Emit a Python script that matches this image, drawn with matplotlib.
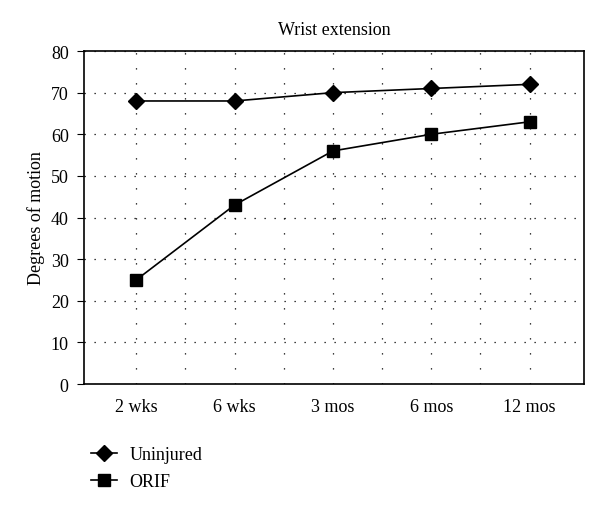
import matplotlib.pyplot as plt
from matplotlib.ticker import MultipleLocator, FixedLocator

plt.rcParams['font.family'] = ['Liberation Serif', 'DejaVu Serif']

periods = ['2 wks', '6 wks', '3 mos', '6 mos', '12 mos']
uninjured = [68, 68, 70, 71, 72]
orif = [25, 43, 56, 60, 63]

fig = plt.figure(figsize=(6, 5.1), dpi=100)
ax = fig.add_axes([0.14, 0.245, 0.833, 0.653])

x = list(range(len(periods)))
ax.plot(x, uninjured, color='black', linewidth=1.2, marker='D', markersize=8, label='Uninjured')
ax.plot(x, orif, color='black', linewidth=1.2, marker='s', markersize=9, label='ORIF')

ax.set_xlim(-0.53, 4.55)
ax.set_ylim(0, 80)
ax.set_xticks(x)
ax.set_xticklabels(periods, fontsize=13)
ax.xaxis.set_minor_locator(FixedLocator([0.5, 1.5, 2.5, 3.5]))
ax.yaxis.set_major_locator(MultipleLocator(10))
ax.tick_params(axis='y', labelsize=13, length=5, direction='out', pad=6)
ax.tick_params(axis='x', length=0, pad=10)
ax.tick_params(axis='x', which='minor', length=0)

ax.grid(True, axis='y', color='black', linestyle=(0, (1, 7)), linewidth=0.9)
ax.grid(True, axis='x', which='both', color='black', linestyle=(0, (1, 11)), linewidth=0.9)
ax.set_axisbelow(True)

for s in ax.spines.values():
    s.set_linewidth(1.2)

ax.set_ylabel('Degrees of motion', fontsize=13)
ax.set_title('Wrist extension', fontsize=13, pad=12)

fig.legend(loc='upper left', bbox_to_anchor=(0.125, 0.155), frameon=False,
           fontsize=13, handlelength=1.4, handletextpad=0.7, labelspacing=0.55)

plt.savefig('out.png', dpi=100)
